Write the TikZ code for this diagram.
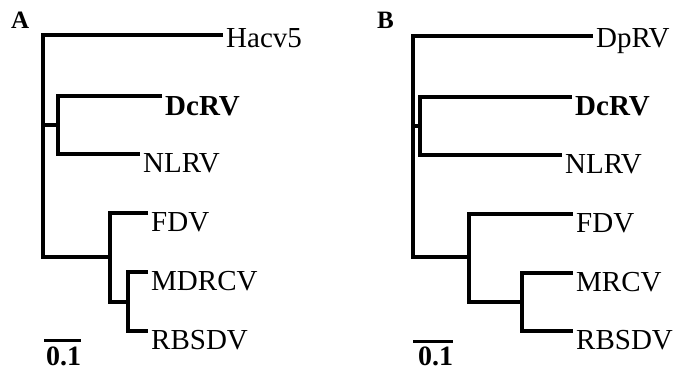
\documentclass[tikz,border=0pt]{standalone}
\usepackage{fontspec}
\setmainfont{Liberation Serif}
\begin{document}
\begin{tikzpicture}[x=1pt,y=-1pt,
  branch/.style={line width=3.4pt,line join=miter},
  leaf/.style={anchor=base west,inner sep=0pt,font=\fontsize{29}{34}\selectfont},
  bleaf/.style={leaf,font=\fontsize{29}{34}\selectfont\bfseries},
  panel/.style={anchor=base west,inner sep=0pt,font=\fontsize{25}{28}\selectfont\bfseries},
  scalelab/.style={anchor=base west,inner sep=0pt,font=\fontsize{28}{32}\selectfont\bfseries}]
\useasboundingbox (0,0) rectangle (680,370);
% ---------- Panel A ----------
\node[panel] (labA) at (11,28) {A};
\coordinate (rootA) at (43,146);
\coordinate (nA1) at (58,125);
\coordinate (nA2) at (110,257);
\coordinate (nA3) at (128,302);
\coordinate (tHacv) at (223,35);
\coordinate (tDcA) at (162,96);
\coordinate (tNLA) at (140,154);
\coordinate (tFDA) at (148,213);
\coordinate (tMDA) at (148,272);
\coordinate (tRBA) at (148,331);
\node[leaf] (Hacv) at (226,47) {Hacv5};
\node[bleaf] (DcA) at (165,115) {DcRV};
\node[leaf] (NLA) at (143,172) {NLRV};
\node[leaf] (FDA) at (151,231) {FDV};
\node[leaf] (MDA) at (151,290) {MDRCV};
\node[leaf] (RBA) at (151,349) {RBSDV};
\draw[branch] (tHacv) -| (rootA) |- (nA2);
\draw[branch] (nA1 -| rootA) -- (nA1);
\draw[branch] (tDcA) -| (nA1) |- (tNLA);
\draw[branch] (tFDA) -| (nA2) |- (nA3);
\draw[branch] (tMDA) -| (nA3) |- (tRBA);
\coordinate (sA1) at (44,340);
\coordinate (sA2) at (81,340);
\draw[line width=3pt] (sA1) -- (sA2);
\node[scalelab] (scA) at (46,365) {0.1};
% ---------- Panel B ----------
\node[panel] (labB) at (377,28) {B};
\coordinate (rootB) at (413,146);
\coordinate (nB1) at (420,126);
\coordinate (nB2) at (469,257);
\coordinate (nB3) at (522,302);
\coordinate (tDp) at (593,36);
\coordinate (tDcB) at (572,97);
\coordinate (tNLB) at (562,155);
\coordinate (tFDB) at (573,214);
\coordinate (tMRB) at (573,273);
\coordinate (tRBB) at (573,331);
\node[leaf] (Dp) at (596,47) {DpRV};
\node[bleaf] (DcB) at (575,115) {DcRV};
\node[leaf] (NLB) at (565,173) {NLRV};
\node[leaf] (FDB) at (576,232) {FDV};
\node[leaf] (MRB) at (576,291) {MRCV};
\node[leaf] (RBB) at (576,349) {RBSDV};
\draw[branch] (tDp) -| (rootB) |- (nB2);
\draw[branch] (nB1 -| rootB) -- (nB1);
\draw[branch] (tDcB) -| (nB1) |- (tNLB);
\draw[branch] (tFDB) -| (nB2) |- (nB3);
\draw[branch] (tMRB) -| (nB3) |- (tRBB);
\coordinate (sB1) at (413,341);
\coordinate (sB2) at (453,341);
\draw[line width=3pt] (sB1) -- (sB2);
\node[scalelab] (scB) at (418,365) {0.1};
\end{tikzpicture}
\end{document}
